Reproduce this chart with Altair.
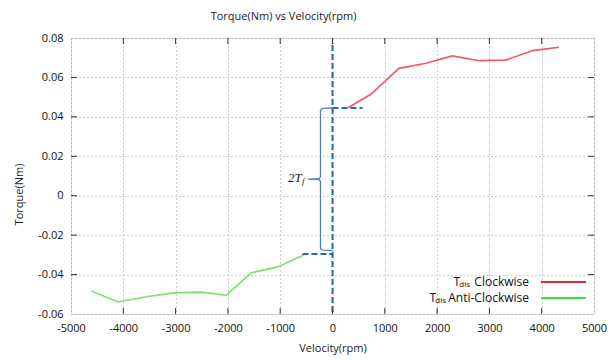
import altair as alt
import pandas as pd

# ---- data ----
cw_rpm = [300, 740, 1270, 1790, 2290, 2810, 3310, 3830, 4330]
cw_torque = [0.0446, 0.0516, 0.0646, 0.0672, 0.0709, 0.0685, 0.0688, 0.0736, 0.0753]
acw_rpm = [-4610, -4100, -3500, -3020, -2510, -2030, -1555, -1045, -515]
acw_torque = [-0.0484, -0.0539, -0.0510, -0.0493, -0.0489, -0.0505, -0.0391, -0.0361, -0.0296]
series_names = ["Clockwise", "Anti-Clockwise"]
series_colors = ["#ee5a5f", "#72e466"]
legend_colors = ["#e82a30", "#3ede3a"]
x_ticks = [-5000, -4000, -3000, -2000, -1000, 0, 1000, 2000, 3000, 4000, 5000]
y_ticks = [-0.06, -0.04, -0.02, 0.0, 0.02, 0.04, 0.06, 0.08]

# friction annotation (dashed guide lines and brace)
dash_x = [0, 0, -574]
dash_x2 = [0, 574, 0]
dash_y = [0.0764, 0.0445, -0.0296]
dash_y2 = [-0.06, 0.0445, -0.0296]
brace_x = [0, -190, -230, -230, -260, -470, -260, -230, -230, -190, 0]
brace_y = [0.0445, 0.0443, 0.0433, 0.0095, 0.0086, 0.0084, 0.0082, 0.0073, -0.0266, -0.0276, -0.0278]

W, H = 523, 276
FONT = "Open Sans"
MINUS = "\u2212"

lines_df = pd.DataFrame(
    {"rpm": cw_rpm + acw_rpm,
     "torque": cw_torque + acw_torque,
     "series": [series_names[0]] * len(cw_rpm) + [series_names[1]] * len(acw_rpm)}
)
dash_df = pd.DataFrame({"x": dash_x, "x2": dash_x2, "y": dash_y, "y2": dash_y2})
brace_df = pd.DataFrame({"x": brace_x, "y": brace_y, "o": list(range(len(brace_x)))})

xs = alt.Scale(domain=[-5000, 5000], nice=False, zero=False)
ys = alt.Scale(domain=[-0.06, 0.08], nice=False, zero=False)

common_axis = dict(
    tickSize=0, domain=False, labelPadding=8, labelFontSize=11, labelFont=FONT,
    labelColor="#111", labelOverlap=False, labelFlush=False, labelBound=False,
    grid=True, gridDash=[1, 3], gridColor="#9a9a9a",
    titleFont=FONT, titleFontSize=11, titleFontWeight="normal", titleColor="#222",
    titleBaseline="middle",
)
x_axis = alt.Axis(
    values=x_ticks, title="Velocity(rpm)",
    labelExpr="'' + datum.value",
    titleY=34, **common_axis,
)
y_axis = alt.Axis(
    values=y_ticks, title="Torque(Nm)",
    labelExpr=f"abs(datum.value) < 1e-9 ? '0' : replace(format(datum.value, '.2f'), '{MINUS}', '-')",
    titleX=-52, titleY=156, titleAngle=-90, **common_axis,
)


def X(field):
    return alt.X(field, scale=xs, axis=x_axis)


def Y(field):
    return alt.Y(field, scale=ys, axis=y_axis)


lines = alt.Chart(lines_df).mark_line(strokeWidth=1.6).encode(
    x=X("rpm:Q"), y=Y("torque:Q"),
    color=alt.Color("series:N", scale=alt.Scale(domain=series_names, range=series_colors), legend=None),
)

dashes = alt.Chart(dash_df).mark_rule(color="#1f6fae", strokeWidth=2, strokeDash=[6, 3]).encode(
    x=X("x:Q"), x2="x2:Q", y=Y("y:Q"), y2="y2:Q",
)

brace = alt.Chart(brace_df).mark_line(color="#4f7fbb", strokeWidth=1.3).encode(
    x=X("x:Q"), y=Y("y:Q"), order="o:Q",
)

label_2t = alt.Chart(pd.DataFrame({"x": [-590], "y": [0.0092], "t": ["2T"]})).mark_text(
    font="Liberation Serif", fontStyle="italic", fontSize=13, align="right", baseline="middle", color="#222"
).encode(x=X("x:Q"), y=Y("y:Q"), text="t:N")
label_f = alt.Chart(pd.DataFrame({"x": [-585], "y": [0.0074], "t": ["f"]})).mark_text(
    font="Liberation Serif", fontStyle="italic", fontSize=9, align="left", baseline="middle", color="#222"
).encode(x=X("x:Q"), y=Y("y:Q"), text="t:N")

# inward tick marks on all four sides
tx_df = pd.DataFrame({"v": x_ticks[1:-1]})
ty_df = pd.DataFrame({"v": y_ticks[1:-1]})
tick_style = dict(color="#333", strokeWidth=1)
ticks_bottom = alt.Chart(tx_df).mark_rule(**tick_style).encode(
    x=X("v:Q"), y=alt.value(H - 6), y2=alt.value(H))
ticks_top = alt.Chart(tx_df).mark_rule(**tick_style).encode(
    x=X("v:Q"), y=alt.value(0), y2=alt.value(6))
ticks_left = alt.Chart(ty_df).mark_rule(**tick_style).encode(
    y=Y("v:Q"), x=alt.value(0), x2=alt.value(6))
ticks_right = alt.Chart(ty_df).mark_rule(**tick_style).encode(
    y=Y("v:Q"), x=alt.value(W - 6), x2=alt.value(W))

# legend (drawn by hand, with subscripts)
legend_layers = []
for i, (name, col, yy) in enumerate(zip(series_names, legend_colors, [244, 260])):
    sub_right = 399 if i == 0 else 375
    legend_layers += [
        alt.Chart(pd.DataFrame({"t": [name]})).mark_text(
            font=FONT, fontSize=12, align="right", baseline="middle", color="#111"
        ).encode(x=alt.value(458), y=alt.value(yy), text="t:N"),
        alt.Chart(pd.DataFrame({"t": ["dis"]})).mark_text(
            font=FONT, fontSize=8, align="right", baseline="middle", color="#111"
        ).encode(x=alt.value(sub_right), y=alt.value(yy + 3), text="t:N"),
        alt.Chart(pd.DataFrame({"t": ["T"]})).mark_text(
            font=FONT, fontSize=12, align="right", baseline="middle", color="#111"
        ).encode(x=alt.value(sub_right - 10), y=alt.value(yy), text="t:N"),
        alt.Chart(pd.DataFrame({"t": [name]})).mark_rule(color=col, strokeWidth=2).encode(
            x=alt.value(470), x2=alt.value(515), y=alt.value(yy)),
    ]

chart = alt.layer(
    lines, dashes, brace, label_2t, label_f,
    ticks_bottom, ticks_top, ticks_left, ticks_right,
    *legend_layers,
).properties(
    width=W, height=H,
    title=alt.TitleParams(
        "Torque(Nm) vs Velocity(rpm)", font=FONT, fontSize=11, fontWeight="normal",
        color="#222", anchor="middle", dx=-49, offset=10,
    ),
    autosize=alt.AutoSizeParams(type="none"),
    padding={"left": 71, "top": 38, "right": 21, "bottom": 46},
).configure_view(stroke="#444", strokeWidth=1).configure_axis(
    labelOverlap=False
).configure(background="white")

chart.save("out.html", embed_options={"renderer": "svg", "actions": False})
